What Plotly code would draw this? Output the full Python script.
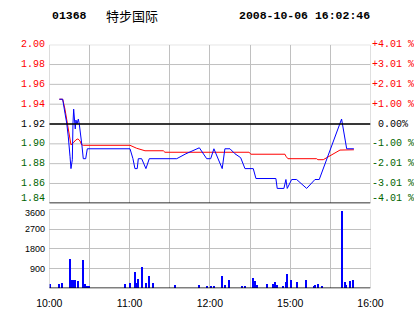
import plotly.graph_objects as go

# ---------------- data ----------------
stock_code = "01368"
stock_name = "特步国际"
timestamp = "2008-10-06 16:02:46"
prev_close = 1.92

# minutes since 10:00 on a compressed trading-time axis (lunch break removed)
price_minute = [7.5, 10.0, 11.7, 13.0, 14.2, 14.9, 15.5, 16.2, 17.2, 17.7, 18.2, 19.4, 19.9,
                20.7, 21.7, 22.4, 23.5, 24.4, 25.4, 27.2, 28.4, 60.3, 62.5, 64.0, 65.7, 66.5,
                69.0, 72.2, 74.7, 95.2, 102.1, 110.1, 112.1, 117.6, 120.6, 123.0, 129.2, 131.2,
                135.0, 138.7, 143.0, 146.2, 152.4, 154.4, 169.3, 170.3, 175.3, 176.8, 177.8,
                181.1, 184.8, 192.3, 198.5, 201.7, 218.4, 222.2, 227.6]
price = [1.945, 1.945, 1.931, 1.921, 1.907, 1.899, 1.887, 1.875, 1.884, 1.921, 1.935, 1.915, 1.924,
         1.920, 1.925, 1.920, 1.904, 1.898, 1.885, 1.885, 1.895, 1.895, 1.885, 1.875, 1.875, 1.885,
         1.885, 1.875, 1.885, 1.885, 1.890, 1.895, 1.896, 1.885, 1.885, 1.895, 1.875, 1.895,
         1.895, 1.890, 1.886, 1.875, 1.875, 1.865, 1.865, 1.855, 1.855, 1.864, 1.855,
         1.864, 1.864, 1.855, 1.864, 1.864, 1.925, 1.895, 1.895]

avg_minute = [7.5, 10.0, 11.7, 13.2, 14.2, 15.5, 16.2, 17.9, 19.9, 21.4, 22.9, 24.2, 25.4,
              60.3, 65.3, 71.5, 85.2, 86.4, 149.2, 150.7, 176.1, 176.8, 178.3, 199.7, 200.7,
              204.7, 217.2, 227.6]
avg_price = [1.945, 1.945, 1.935, 1.922, 1.912, 1.902, 1.899, 1.901, 1.904, 1.905, 1.903, 1.899, 1.8985,
             1.8985, 1.8955, 1.893, 1.893, 1.8915, 1.8915, 1.8895, 1.8895, 1.8875, 1.885, 1.885, 1.884,
             1.884, 1.8937, 1.894]

vol_minute = [1, 7.5, 9.7, 15.7, 16.4, 17.9, 18.7, 19.7, 21.7, 25.4, 26.9, 28.4, 29.9,
              56.8, 60.5, 64.2, 65.7, 66.5, 69.5, 72.5, 74.7, 77.7, 94.1, 112.1, 118.0, 121.3,
              123.3, 129.2, 131.5, 134.5, 144.2, 146.4, 152.4, 153.9, 155.4, 162.8, 167.3,
              168.8, 170.3, 174.8, 177.0, 178.1, 180.8, 185.3, 192.0, 198.0, 198.7, 200.9,
              203.9, 219.2, 221.1, 221.9, 224.8, 227.1]
volume = [195, 195, 240, 1335, 380, 350, 290, 380, 330, 1290, 195, 100, 100,
          195, 240, 745, 240, 420, 955, 240, 560, 240, 150, 150, 100, 100,
          100, 560, 150, 380, 100, 100, 470, 330, 150, 195, 195,
          290, 150, 100, 290, 650, 380, 290, 380, 100, 150, 195,
          100, 3520, 290, 150, 330, 380]

price_ticks = [1.84, 1.86, 1.88, 1.90, 1.92, 1.94, 1.96, 1.98, 2.00]
pct_labels = ["-4.01 %", "-3.01 %", "-2.01 %", "-1.00 %", "0.00%",
              "+1.00 %", "+2.01 %", "+3.01 %", "+4.01 %"]
vol_ticks = [900, 1800, 2700, 3600]
time_ticks = [0, 30, 60, 90, 120, 150, 180, 210, 240]
time_labels = ["10:00", "", "11:00", "", "12:00", "", "15:00", "", "16:00"]

# ---------------- styles ----------------
W, H = 414, 314
RED = "#ff0000"
GREEN = "#006400"
GRID = "#c0c0c0"


def colour(v):
    if abs(v - prev_close) < 1e-9:
        return "#000000"
    return RED if v > prev_close else GREEN


def px_x(p):
    return p / W


def px_y(p):
    return 1 - p / H


x_dom = [px_x(49.3), px_x(370.5)]
y_dom_price = [px_y(203.3), px_y(44.7)]
y_dom_vol = [px_y(288.3), px_y(209.3)]

fig = go.Figure()
fig.add_trace(go.Scatter(x=avg_minute, y=avg_price, mode="lines",
                         line=dict(color=RED, width=1), xaxis="x", yaxis="y",
                         hoverinfo="skip"))
fig.add_trace(go.Scatter(x=price_minute, y=price, mode="lines",
                         line=dict(color="#0000ff", width=1), xaxis="x", yaxis="y",
                         hoverinfo="skip"))
fig.add_trace(go.Bar(x=vol_minute, y=volume, width=0.9,
                     marker=dict(color="#0000ff", line=dict(width=0)),
                     xaxis="x2", yaxis="y2", hoverinfo="skip"))

mono = "Liberation Mono"
sans = "Liberation Sans"

fig.update_layout(
    width=W, height=H, margin=dict(l=0, r=0, t=0, b=0, autoexpand=False),
    paper_bgcolor="white", plot_bgcolor="white", showlegend=False, bargap=0,
    xaxis=dict(domain=x_dom, range=[0, 240], tickvals=time_ticks, showticklabels=False,
               showgrid=True, gridcolor=GRID, gridwidth=1, zeroline=False, anchor="y",
               ticks="", automargin=False),
    yaxis=dict(domain=y_dom_price, range=[1.84, 2.00], tickvals=[], showticklabels=False,
               showgrid=False, zeroline=False, anchor="x", automargin=False),
    xaxis2=dict(domain=x_dom, range=[0, 240], tickvals=time_ticks, ticktext=time_labels,
                showgrid=True, gridcolor=GRID, gridwidth=1, zeroline=False, anchor="y2",
                tickfont=dict(family=sans, size=10.5, color="black"), ticks="outside",
                ticklen=5, tickcolor="rgba(0,0,0,0)", automargin=False),
    yaxis2=dict(domain=y_dom_vol, range=[0, 3600], tickvals=vol_ticks, showticklabels=False,
                showgrid=True, gridcolor=GRID, gridwidth=1, zeroline=False, anchor="x2",
                automargin=False),
)

shapes = []
# price grid lines
for v in price_ticks:
    shapes.append(dict(type="line", xref="x", yref="y", x0=0, x1=240, y0=v, y1=v,
                       line=dict(color=GRID, width=1), layer="below"))
# panel borders
for yref, y0, y1 in (("y", 1.84, 2.00), ("y2", 0, 3600)):
    for xv in (0, 240):
        shapes.append(dict(type="line", xref="x", yref=yref, x0=xv, x1=xv, y0=y0, y1=y1,
                           line=dict(color=GRID, width=1)))
shapes.append(dict(type="line", xref="x2", yref="y2", x0=0, x1=240, y0=3600, y1=3600,
                   line=dict(color=GRID, width=1)))
# previous close and bottom lines
shapes.append(dict(type="line", xref="x", yref="y", x0=0, x1=240, y0=prev_close, y1=prev_close,
                   line=dict(color="black", width=1.3)))
shapes.append(dict(type="line", xref="x", yref="y", x0=0, x1=240, y0=1.84, y1=1.84,
                   line=dict(color="black", width=1.6)))
shapes.append(dict(type="line", xref="x2", yref="y2", x0=0, x1=240, y0=0, y1=0,
                   line=dict(color="black", width=1.6)))
fig.update_layout(shapes=shapes)

ann = []
for i, (v, lab) in enumerate(zip(price_ticks, pct_labels)):
    shift = 5 if i == 0 else 0
    ann.append(dict(text=f"{v:.2f}", x=px_x(47), xref="paper", y=v, yref="y", xanchor="right",
                    yanchor="middle", yshift=shift, showarrow=False,
                    font=dict(family=mono, size=10, color=colour(v))))
    ann.append(dict(text=lab, x=px_x(393), xref="paper", y=v, yref="y", xanchor="center",
                    yanchor="middle", yshift=shift, showarrow=False,
                    font=dict(family=mono, size=10, color=colour(v))))
for v in vol_ticks:
    ann.append(dict(text=str(v), x=px_x(46.5), xref="paper", y=v, yref="y2", xanchor="right",
                    yanchor="middle", yshift=-4 if v == 3600 else 0, showarrow=False,
                    font=dict(family=sans, size=9, color="black")))
ann.append(dict(text=f"<b>{stock_code}</b>", x=px_x(50), y=px_y(16), xref="paper", yref="paper",
                xanchor="left", yanchor="middle", showarrow=False,
                font=dict(family=mono, size=11.5, color="black")))
ann.append(dict(text=stock_name, x=px_x(104), y=px_y(16), xref="paper", yref="paper",
                xanchor="left", yanchor="middle", showarrow=False,
                font=dict(family="Noto Sans CJK SC", size=13, color="black")))
ann.append(dict(text=f"<b>{timestamp}</b>", x=px_x(237), y=px_y(16), xref="paper", yref="paper",
                xanchor="left", yanchor="middle", showarrow=False,
                font=dict(family=mono, size=11.5, color="black")))
fig.update_layout(annotations=ann)

fig.write_html("out.html")
